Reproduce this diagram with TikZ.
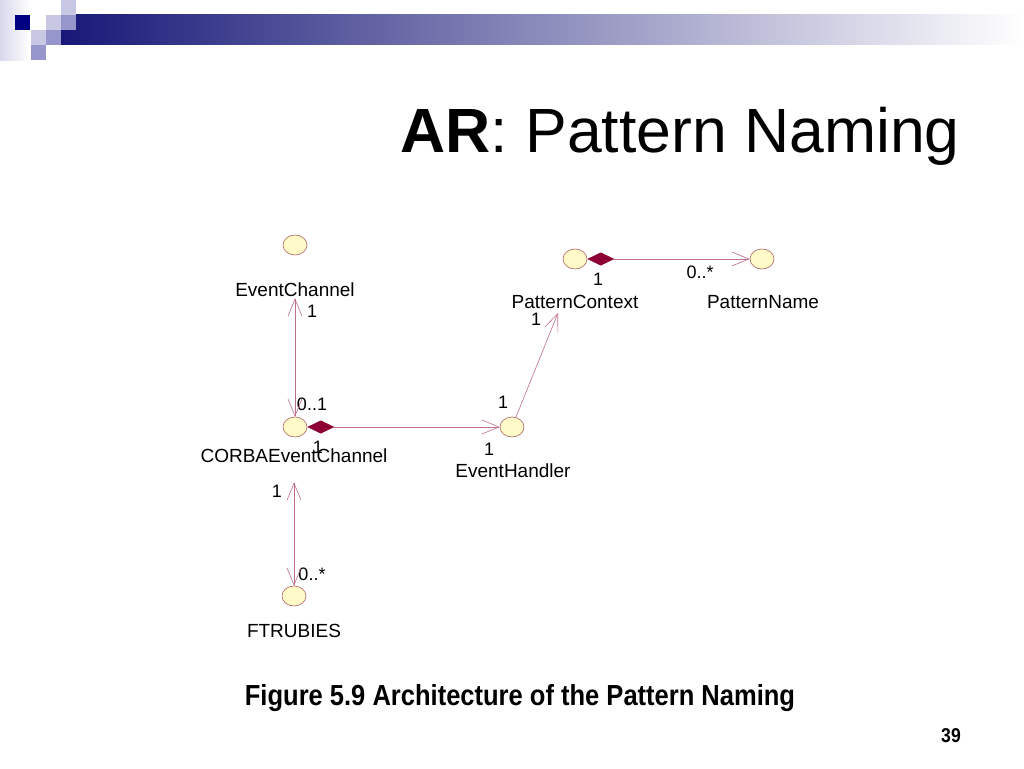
\documentclass[tikz,border=0pt]{standalone}
\usepackage{fontspec}
\setmainfont{Liberation Sans}
\newfontfamily\narrowfont[FakeStretch=0.88]{Liberation Sans}
\usetikzlibrary{arrows.meta,shapes.geometric}

\definecolor{barnavy}{RGB}{24,24,120}
\definecolor{bargray}{RGB}{150,150,175}
\definecolor{squaredark}{RGB}{0,0,128}
\definecolor{squarelight}{RGB}{200,200,228}
\definecolor{squaremid}{RGB}{150,150,204}
\definecolor{classfill}{RGB}{255,250,200}
\definecolor{classdraw}{RGB}{170,100,100}
\definecolor{linepink}{RGB}{190,110,140}
\definecolor{diamondred}{RGB}{140,0,50}

\begin{document}
\begin{tikzpicture}
[
	                  x = 1pt,
	                  y = -1pt,
	                 >= {Straight Barb[length=17pt,width=14pt]},
	  classicon/.style = { draw=classdraw, fill=classfill, ellipse, minimum width=24pt, minimum height=20pt, inner sep=0pt, line width=0.6pt },
	  classname/.style = { anchor=base, inner sep=2pt, font=\fontsize{19}{22}\selectfont },
	       mult/.style = { anchor=base, inner sep=0pt, font=\fontsize{18}{20}\selectfont },
	      assoc/.style = { draw=linepink, line width=0.6pt },
	       comp/.style = { assoc, {Diamond[length=27pt,width=13pt,color=diamondred,fill=diamondred]}-> }
]

    \fill[white] (0,0) rectangle (1024,768);
    \useasboundingbox (0,0) rectangle (1024,768);

    % banner
    \shade[left color=squarelight!70, right color=white] (0,0) rectangle (30,60);
    \shade[left color=barnavy, middle color=bargray, right color=white] (61,15) rectangle (1024,45);
    \fill[squarelight] (61,0)  rectangle (76,15);
    \fill[squaredark]  (15,15) rectangle (30,30);
    \fill[squarelight] (46,15) rectangle (61,30);
    \fill[squaremid]   (61,15) rectangle (76,30);
    \fill[squarelight] (31,30) rectangle (46,45);
    \fill[squaremid]   (46,30) rectangle (61,45);
    \fill[squaremid]   (31,45) rectangle (46,60);

    \node (Title)     at (960,152) [anchor=base east, inner sep=0pt, font=\fontsize{62.5}{70}\selectfont] {\textbf{AR}: Pattern Naming};

    \node (EventChannel)            at (295,245) [classicon] {};
    \node (EventChannelLabel)       at (295,296) [classname] {EventChannel};
    \node (CORBAEventChannel)       at (295,427) [classicon] {};
    \node (CORBAEventChannelLabel)  at (294,462) [classname] {CORBAEventChannel};
    \node (EventHandler)            at (512,427) [classicon] {};
    \node (EventHandlerLabel)       at (513,477) [classname] {EventHandler};
    \node (PatternContext)          at (575,259) [classicon] {};
    \node (PatternContextLabel)     at (575,308) [classname] {PatternContext};
    \node (PatternName)             at (762,259) [classicon] {};
    \node (PatternNameLabel)        at (763,308) [classname] {PatternName};
    \node (FTRUBIES)                at (294,596) [classicon] {};
    \node (FTRUBIESLabel)           at (294,637) [classname] {FTRUBIES};
    \coordinate (PatternContextFoot) at (558,313);

    \node (EventChannelMult)        at (312,317) [mult] {1};
    \node (CORBAUpMult)             at (312,410) [mult] {0..1};
    \node (CORBARightMult)          at (318,453) [mult] {1};
    \node (EventHandlerLeftMult)    at (489,455) [mult] {1};
    \node (EventHandlerUpMult)      at (503,408) [mult] {1};
    \node (PatternContextFootMult)  at (536,325) [mult] {1};
    \node (PatternContextRightMult) at (598,285) [mult] {1};
    \node (PatternNameMult)         at (700,278) [mult] {0..*};
    \node (CORBADownMult)           at (277,497) [mult] {1};
    \node (FTRUBIESMult)            at (312,580) [mult] {0..*};

    \draw [assoc, <->] (EventChannelLabel) -- (CORBAEventChannel);
    \draw [comp] (CORBAEventChannel) -- (EventHandler);
    \draw [assoc, ->] (EventHandler) -- (PatternContextFoot);
    \draw [comp] (PatternContext) -- (PatternName);
    \draw [assoc, <->, shorten <=18pt] (CORBAEventChannelLabel) -- (FTRUBIES);

    \node (Caption)    at (520,705) [anchor=base, font=\narrowfont\bfseries\fontsize{29}{32}\selectfont] {Figure 5.9 Architecture of the Pattern Naming};
    \node (PageNumber) at (951,742) [anchor=base, font=\narrowfont\bfseries\fontsize{20}{22}\selectfont] {39};

\end{tikzpicture}
\end{document}
